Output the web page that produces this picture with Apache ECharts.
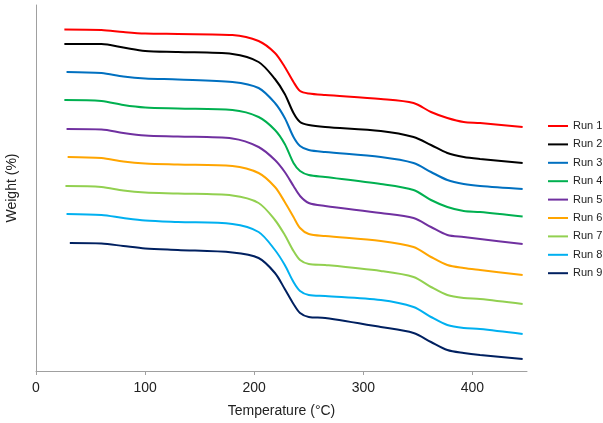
<!DOCTYPE html>
<html>
<head>
<meta charset="utf-8">
<script src="https://cdn.jsdelivr.net/npm/echarts@6/dist/echarts.min.js"></script>
<style>
html,body{margin:0;padding:0;background:#fff;}
#chart{width:603px;height:423px;}
</style>
</head>
<body>
<div id="chart"></div>
<script>
// Temperature grid (°C); first point of each run uses its own start temperature
const temps = [26, 60, 80, 100, 130, 180, 204, 219, 228, 236, 242, 250, 265, 316, 346, 362, 377, 392, 407, 446];
const startTemps = [26, 26, 28, 26, 28, 29, 27, 28, 31];
const xTicks = [0, 100, 200, 300, 400];
const runNames = ['Run 1', 'Run 2', 'Run 3', 'Run 4', 'Run 5', 'Run 6', 'Run 7', 'Run 8', 'Run 9'];
const run1 = [341.5, 341, 339, 337.5, 337, 336, 330, 318, 304, 289, 280, 277.5, 276, 272, 268, 259, 253, 249, 248, 244];
const run2 = [327, 327, 323.5, 320, 319, 317, 309, 292, 277, 258, 249, 246, 244, 240, 234, 226, 218, 214, 212, 208];
const run3 = [299, 298, 294.5, 292.5, 291.5, 289, 283, 268, 253, 234, 225, 221, 219, 214, 208, 199, 191, 187, 185, 182];
const run4 = [271, 270, 266, 263.5, 262.5, 261, 254, 241, 227, 208, 200, 196, 194, 187, 181, 171, 164, 160, 159, 154.5];
const run5 = [242, 241.5, 238, 235.5, 234.5, 232.5, 224, 211, 199, 185, 175, 168, 165, 158, 153, 144, 136, 134, 132, 127];
const run6 = [214, 213, 209.5, 207.5, 206.5, 205, 198, 184, 169, 154, 143, 137, 135, 130, 124, 114, 106, 103, 101, 96];
const run7 = [185, 184, 180.5, 178.5, 177.5, 175.5, 168, 151, 136, 120, 111, 107, 106, 100, 94, 84, 76, 73, 72, 67];
const run8 = [157, 156, 153, 150.5, 149, 147, 139, 121, 106, 89, 80, 76, 75, 71, 64, 54, 46, 43, 42, 37];
const run9 = [128, 127.5, 125, 122.5, 121, 118.5, 113, 98, 82, 67, 58, 54, 53, 44, 38, 29, 21, 18, 16, 12];
const runs = [run1, run2, run3, run4, run5, run6, run7, run8, run9];
const colors = ['#FF0000', '#000000', '#0070C0', '#00B050', '#7030A0', '#FFA500', '#92D050', '#00B0F0', '#002060'];

const series = runs.map((vals, i) => ({
  name: runNames[i],
  type: 'line',
  smooth: 0.3,
  symbol: 'none',
  lineStyle: { width: 2, color: colors[i] },
  itemStyle: { color: colors[i] },
  data: vals.map((v, j) => [j === 0 ? startTemps[i] : temps[j], v])
}));

const chart = echarts.init(document.getElementById('chart'));
chart.setOption({
  animation: false,
  grid: { left: 36, right: 76, top: 5, bottom: 52, outerBoundsMode: 'none', containLabel: false },
  legend: {
    orient: 'vertical',
    left: 548,
    top: 119,
    padding: 0,
    itemWidth: 20,
    itemHeight: 2,
    itemGap: 4.4,
    icon: 'rect',
    data: runNames,
    textStyle: { fontFamily: 'Liberation Sans, Arial', fontSize: 11, color: '#222', lineHeight: 14 }
  },
  xAxis: {
    type: 'value',
    min: 0,
    max: 450,
    interval: 100,
    name: 'Temperature (°C)',
    nameLocation: 'middle',
    nameGap: 33,
    nameTextStyle: { fontFamily: 'Liberation Sans, Arial', fontSize: 14, color: '#222' },
    axisLine: { lineStyle: { color: '#A0A0A0', width: 1 } },
    axisTick: { show: true, length: 4, customValues: xTicks, lineStyle: { color: '#A0A0A0' } },
    axisLabel: { fontFamily: 'Liberation Sans, Arial', fontSize: 14, color: '#222', margin: 10, customValues: xTicks },
    splitLine: { show: false }
  },
  yAxis: {
    type: 'value',
    min: 0,
    max: 366,
    name: 'Weight (%)',
    nameLocation: 'middle',
    nameGap: 17,
    nameTextStyle: { fontFamily: 'Liberation Sans, Arial', fontSize: 14, color: '#222' },
    axisLine: { show: true, lineStyle: { color: '#A0A0A0', width: 1 } },
    axisTick: { show: false },
    axisLabel: { show: false },
    splitLine: { show: false }
  },
  series: series
});
</script>
</body>
</html>
